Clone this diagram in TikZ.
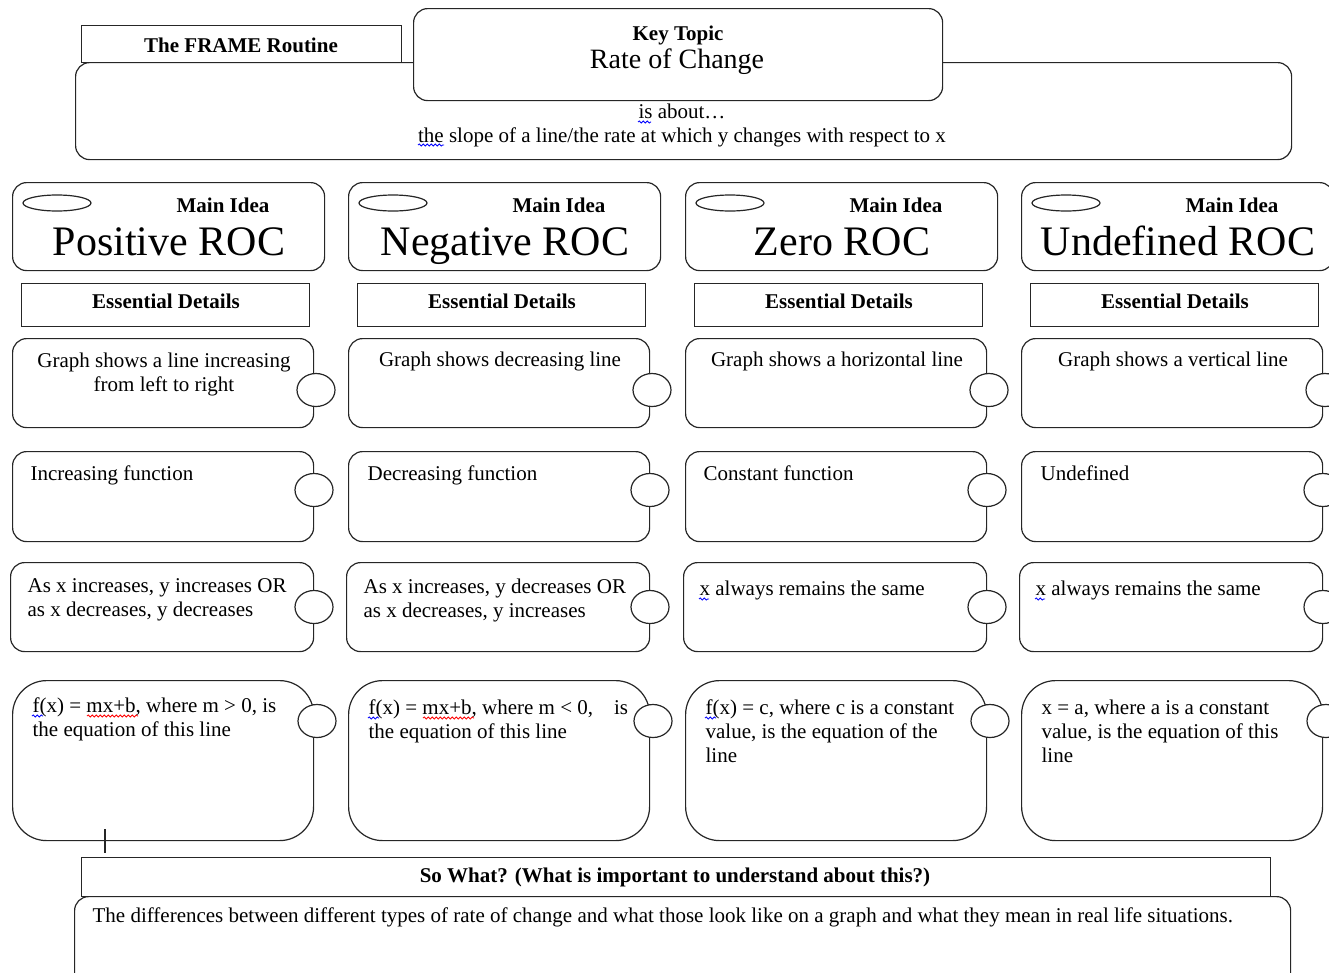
\documentclass[tikz,border=0pt]{standalone}
\usepackage{fontspec}
\setmainfont{Liberation Serif}
\usetikzlibrary{shapes.geometric,decorations.pathmorphing}
\newcommand\LLines[1]{\vtop{\halign{##\hfil\cr#1\crcr}}}
\newcommand\CLines[1]{\vtop{\halign{\hfil##\hfil\cr#1\crcr}}}
\begin{document}
\begin{tikzpicture}[x=1pt,y=-1pt,
  line width=1.2pt,
  rbox/.style={draw=black!85, rounded corners=14pt, fill=white, inner sep=0pt, anchor=north west},
  bigr/.style={rbox, rounded corners=34pt},
  sbox/.style={draw=black!85, fill=white, inner sep=0pt, anchor=north west},
  knob/.style={draw=black!85, fill=white, ellipse, minimum width=38pt, minimum height=33pt, inner sep=0pt},
  oval/.style={draw=black!85, ellipse, minimum width=68pt, minimum height=16pt, inner sep=0pt},
  txt/.style={inner sep=0pt, font=\fontsize{21}{24}\selectfont},
  bld/.style={inner sep=0pt, font=\fontsize{21}{24}\selectfont\bfseries},
  huge/.style={inner sep=0pt, font=\fontsize{42}{48}\selectfont},
  topicf/.style={inner sep=0pt, font=\fontsize{28}{32}\selectfont},
  spellb/.style={draw=blue, line width=0.8pt, decorate, decoration={snake, amplitude=1.1pt, segment length=4pt}},
  spellr/.style={draw=red, line width=0.8pt, decorate, decoration={snake, amplitude=1.1pt, segment length=4pt}}
]
\useasboundingbox (0,0) rectangle (1329,972);

% ---------- top ----------
\node[rbox, minimum width=1216pt, minimum height=97pt] (about) at (75,62) {};
\node[sbox, minimum width=320pt, minimum height=37pt] (frame) at (81,25) {};
\node[rbox, minimum width=529pt, minimum height=92pt] (topic) at (413,8) {};
\node[bld, anchor=base] (frameT) at (241,52) {The FRAME Routine};
\node[bld, anchor=base] (keyT) at (678,40) {Key Topic};
\node[topicf, anchor=base] (rateT) at (677,68) {Rate of Change};
\node[txt, anchor=base] (aboutT) at (682,118) {\CLines{is about…\cr the slope of a line/the rate at which y changes with respect to x}};
\coordinate (sq1a) at (638,122); \coordinate (sq1b) at (651,122);
\draw[spellb] (sq1a) -- (sq1b);
\coordinate (sq2a) at (418,145); \coordinate (sq2b) at (444,145);
\draw[spellb] (sq2a) -- (sq2b);

% ---------- columns: shapes ----------
\foreach \c/\X in {1/12,2/348,3/685,4/1021}{
  \node[rbox, minimum width=312pt, minimum height=88pt] (mi\c) at (\X,182) {};
  \node[oval] (ov\c) at (\X+45,203) {};
  \node[bld, anchor=base] (mit\c) at (\X+211,212) {Main Idea};
  \node[sbox, minimum width=288pt, minimum height=43pt] (ed\c) at (\X+9,283) {};
  \node[bld, anchor=base] (edt\c) at (\X+154,308) {Essential Details};
  \node[rbox, minimum width=301pt, minimum height=89pt] (ra\c) at (\X,338) {};
  \node[knob] (ka\c) at (\X+304,390) {};
  \node[rbox, minimum width=301pt, minimum height=90pt] (rb\c) at (\X,451) {};
  \node[knob] (kb\c) at (\X+302,490) {};
  \node[rbox, minimum width=303pt, minimum height=89pt] (rc\c) at (\X-2,562) {};
  \node[knob] (kc\c) at (\X+302,607) {};
  \node[bigr, minimum width=301pt, minimum height=160pt] (rd\c) at (\X,680) {};
  \node[knob] (kd\c) at (\X+305,721) {};
}

% ---------- column texts ----------
\node[huge, anchor=base] (big1) at (169,255) {Positive ROC};
\node[huge, anchor=base] (big2) at (505,255) {Negative ROC};
\node[huge, anchor=base] (big3) at (842,255) {Zero ROC};
\node[huge, anchor=base] (big4) at (1178,255) {Undefined ROC};

\node[txt, anchor=base] (a1) at (164,367) {\CLines{Graph shows a line increasing\cr from left to right}};
\node[txt, anchor=base] (a2) at (500,366) {Graph shows decreasing line};
\node[txt, anchor=base] (a3) at (837,366) {Graph shows a horizontal line};
\node[txt, anchor=base] (a4) at (1173,366) {Graph shows a vertical line};

\node[txt, anchor=base west] (b1) at (30,480) {Increasing function};
\node[txt, anchor=base west] (b2) at (367,480) {Decreasing function};
\node[txt, anchor=base west] (b3) at (703,480) {Constant function};
\node[txt, anchor=base west] (b4) at (1040,480) {Undefined};

\node[txt, anchor=base west] (c1) at (27,592) {\LLines{As x increases, y increases OR\cr as x decreases, y decreases}};
\node[txt, anchor=base west] (c2) at (363,593) {\LLines{As x increases, y decreases OR\cr as x decreases, y increases}};
\node[txt, anchor=base west] (c3) at (699,595) {x always remains the same};
\node[txt, anchor=base west] (c4) at (1035,595) {x always remains the same};

\node[txt, anchor=base west] (d1) at (32,712) {\LLines{f(x) = mx+b, where m > 0, is\cr the equation of this line}};
\node[txt, anchor=base west] (d2) at (368,714) {\LLines{f(x) = mx+b, where m < 0,\quad is\cr the equation of this line}};
\node[txt, anchor=base west] (d3) at (705,714) {\LLines{f(x) = c, where c is a constant\cr value, is the equation of the\cr line}};
\node[txt, anchor=base west] (d4) at (1041,714) {\LLines{x = a, where a is a constant\cr value, is the equation of this\cr line}};

% spelling marks
\coordinate (s3a) at (32,716); \coordinate (s3b) at (43,716); \draw[spellb] (s3a) -- (s3b);
\coordinate (s4a) at (87,716); \coordinate (s4b) at (138,716); \draw[spellr] (s4a) -- (s4b);
\coordinate (s5a) at (368,718); \coordinate (s5b) at (379,718); \draw[spellb] (s5a) -- (s5b);
\coordinate (s6a) at (423,718); \coordinate (s6b) at (474,718); \draw[spellr] (s6a) -- (s6b);
\coordinate (s7a) at (705,718); \coordinate (s7b) at (716,718); \draw[spellb] (s7a) -- (s7b);
\coordinate (s8a) at (699,599); \coordinate (s8b) at (709,599); \draw[spellb] (s8a) -- (s8b);
\coordinate (s9a) at (1035,599); \coordinate (s9b) at (1045,599); \draw[spellb] (s9a) -- (s9b);

% ---------- bottom ----------
\coordinate (tk1) at (105,829); \coordinate (tk2) at (105,853);
\draw[draw=black!85] (tk1) -- (tk2);
\node[rbox, minimum width=1216pt, minimum height=92pt] (sowhatbox) at (74,896) {};
\node[sbox, minimum width=1189pt, minimum height=39pt] (sowhat) at (81,857) {};
\node[bld, anchor=base] (sowhatT) at (675,882) {So What? (What is important to understand about this?)};
\node[txt, anchor=base west] (diffT) at (92,922) {The differences between different types of rate of change and what those look like on a graph and what they mean in real life situations.};
\end{tikzpicture}
\end{document}
